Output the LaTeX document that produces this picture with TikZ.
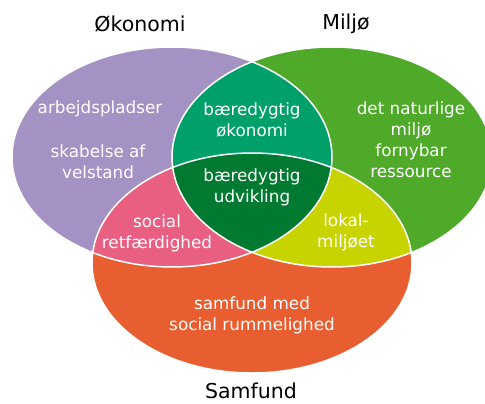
\documentclass[tikz,border=0pt]{standalone}
\usepackage{fontspec}
\setmainfont{DejaVu Sans}
\definecolor{cOkon}{HTML}{A492C4}
\definecolor{cMilj}{HTML}{4EAA28}
\definecolor{cSamf}{HTML}{E95E30}
\definecolor{cOkMi}{HTML}{00A06B}
\definecolor{cOkSa}{HTML}{E95F82}
\definecolor{cMiSa}{HTML}{C8D400}
\definecolor{cAll}{HTML}{007A30}
\tikzset{
  lbl/.style={text=white, font=\fontsize{16.8}{21}\selectfont, align=center, inner sep=0pt},
  ttl/.style={text=black, font=\fontsize{20.5}{24}\selectfont, inner sep=0pt},
  border/.style={draw=white, line width=1.5pt}
}
\newcommand{\ellL}{(172,157) ellipse [x radius=160pt, y radius=110pt]}
\newcommand{\ellR}{(332,157) ellipse [x radius=160pt, y radius=110pt]}
\newcommand{\ellB}{(252,263) ellipse [x radius=160pt, y radius=110pt]}
\begin{document}
\begin{tikzpicture}[x=1pt,y=-1pt]
\useasboundingbox[fill=white] (0,0) rectangle (485,404);
% base ellipses
\fill[cOkon] \ellL;
\fill[cMilj] \ellR;
\fill[cSamf] \ellB;
% pairwise intersections
\begin{scope}\clip \ellL; \fill[cOkMi] \ellR; \end{scope}
\begin{scope}\clip \ellL; \fill[cOkSa] \ellB; \end{scope}
\begin{scope}\clip \ellR; \fill[cMiSa] \ellB; \end{scope}
% triple intersection
\begin{scope}\clip \ellL; \clip \ellR; \fill[cAll] \ellB; \end{scope}
% white borders
\draw[border] \ellL;
\draw[border] \ellR;
\draw[border] \ellB;
% titles
\node[ttl] (tOk) at (140,24) {Økonomi};
\node[ttl] (tMi) at (346,24) {Miljø};
\node[ttl] (tSa) at (251,391) {Samfund};
% labels
\node[lbl] (aOk1) at (100,109) {arbejdspladser};
\node[lbl] (aOk2) at (98,162) {skabelse af\\velstand};
\node[lbl] (aMi) at (411,140) {det naturlige\\miljø\\fornybar\\ressource};
\node[lbl] (aOkMi) at (252,120) {bæredygtig\\økonomi};
\node[lbl] (aAll) at (252,187) {bæredygtig\\udvikling};
\node[lbl] (aOkSa) at (157,233) {social\\retfærdighed};
\node[lbl] (aMiSa) at (346,232) {lokal-\\miljøet};
\node[lbl] (aSa) at (252,315) {samfund med\\social rummelighed};
\end{tikzpicture}
\end{document}
